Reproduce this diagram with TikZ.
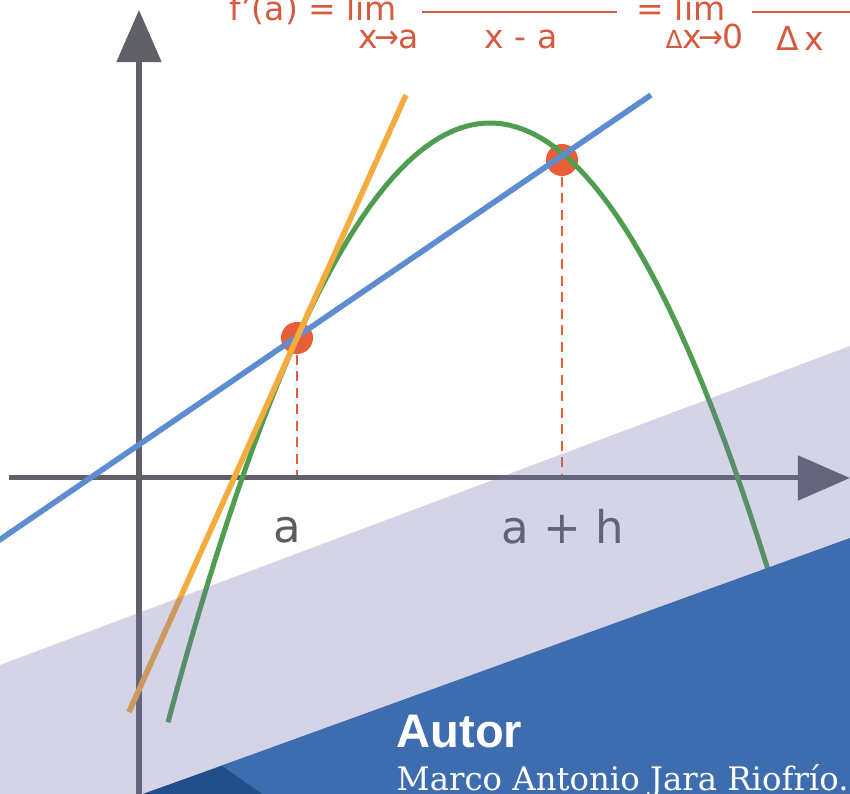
\documentclass[tikz,border=0pt]{standalone}
\usepackage{fontspec}
\usepackage{graphicx}
\setmainfont{DejaVu Sans}
\newfontfamily\namefont{DejaVu Serif}
\newfontfamily\autorfont{Liberation Sans}
\usetikzlibrary{arrows.meta}
\definecolor{axisgray}{RGB}{96,96,104}
\definecolor{labelgray}{RGB}{92,92,98}
\definecolor{curvegreen}{RGB}{78,157,80}
\definecolor{tangentorange}{RGB}{245,172,62}
\definecolor{secantblue}{RGB}{93,140,208}
\definecolor{dotred}{RGB}{232,94,56}
\definecolor{formulared}{RGB}{214,90,62}
\definecolor{lavender}{RGB}{112,112,172}
\definecolor{bandblue}{RGB}{61,108,175}
\definecolor{banddark}{RGB}{33,78,138}
\newcommand{\shortto}{\kern-0.1em\scalebox{0.9}[1]{→}\kern-0.05em}
\begin{document}
\begin{tikzpicture}[x=0.01cm,y=-0.01cm,
  axis/.style={draw=axisgray,line width=0.05cm,-{Triangle[length=0.52cm,width=0.44cm]}},
  curve/.style={draw=curvegreen,line width=0.05cm},
  tangent/.style={draw=tangentorange,line width=0.056cm},
  secant/.style={draw=secantblue,line width=0.056cm},
  dot/.style={circle,fill=dotred,inner sep=0pt,minimum size=0.32cm},
  drop/.style={draw=dotred,line width=0.022cm,dash pattern=on 0.1cm off 0.065cm},
  lbl/.style={text=labelgray,inner sep=0pt,anchor=base,font=\fontsize{12.8pt}{14pt}\selectfont},
  formula/.style={text=formulared,inner sep=0pt,anchor=base west,font=\fontsize{9.4pt}{11pt}\selectfont},
  bar/.style={draw=formulared,line width=0.025cm}]
\useasboundingbox (0,0) rectangle (850,794);
\clip (0,0) rectangle (850,794);

\coordinate (o) at (139,478);
\node[dot] (pa) at (297,338) {};
\node[dot] (pb) at (562,160) {};
\draw[drop] (pa) -- (pa |- o);
\draw[drop] (pb) -- (pb |- o);

\draw[axis] (9,478) -- (850,478);
\draw[axis] (139,800) -- (139,10);

\draw[curve] plot[domain=168:780,samples=80] (\x,{123+57.8*((\x-490)/100)^2});
\draw[secant] (-5,543) -- (651,95);
\draw[tangent] (129,712) -- (406,95);

\node[lbl] (la) at (287,543) {a};
\node[lbl] (lah) at (563,544) {a + h};

\fill[lavender,fill opacity=0.3] (0,665) -- (850,346) -- (850,794) -- (0,794) -- cycle;
\fill[bandblue] (143,794) -- (850,538) -- (850,794) -- cycle;
\fill[banddark] (143,794) -- (222,766) -- (262,794) -- cycle;

\node[formula] (fa) at (229,21) {f’(a) = lim};
\node[formula] (lim1) at (358,49) {x\shortto a};
\draw[bar] (422,12) -- (617,12);
\node[formula] (den1) at (484,49) {x - a};
\node[formula] (eq2) at (636,21) {= lim};
\node[formula] (lim2) at (665,49) {\scalebox{0.75}{Δ}x\shortto 0};
\draw[bar] (752,12) -- (850,12);
\node[formula] (den2) at (776,51) {Δ\,x};

\node[text=white,inner sep=0pt,anchor=base west,font=\autorfont\bfseries\fontsize{13.4pt}{15pt}\selectfont] (autor) at (396,748) {Autor};
\node[text=white,inner sep=0pt,anchor=base west,font=\namefont\fontsize{9.2pt}{11pt}\selectfont] (name) at (396,791) {Marco Antonio Jara Riofrío.};
\end{tikzpicture}
\end{document}
